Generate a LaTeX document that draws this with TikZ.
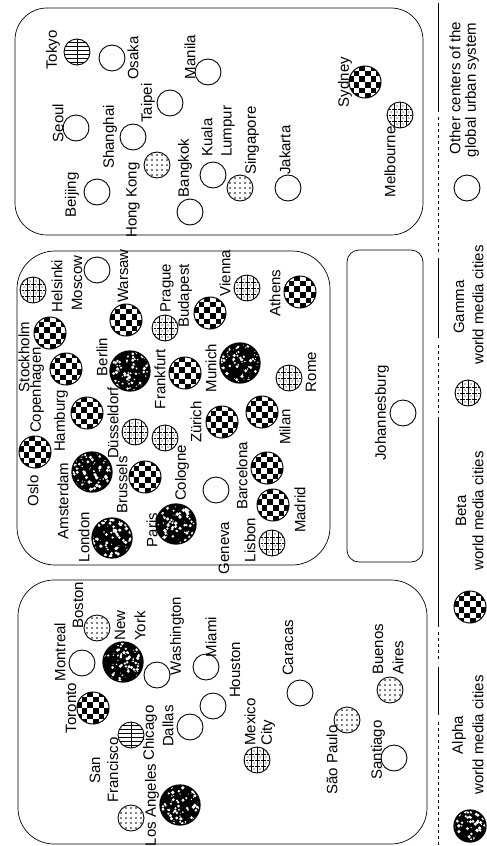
\documentclass[tikz,border=0pt]{standalone}
\usepackage{fontspec}
\setmainfont{Liberation Sans}
\usepackage{tikz}
\usetikzlibrary{positioning}
\newcommand{\labfont}{\fontsize{15}{18}\selectfont}
% Fillings of the city symbols
\newcommand{\checkers}{%
\begin{scope}[shift={(path picture bounding box.center)}]
\foreach \i in {-3,...,2}{
  \foreach \j in {-3,...,2}{
    \pgfmathtruncatemacro{\cpar}{mod(\i+\j+10,2)}
    \ifnum\cpar=0 \fill (\i*5.6,\j*5.6) rectangle ++(5.6,5.6); \fi
  }
}
\end{scope}}
\newcommand{\speckles}{%
\begin{scope}[shift={(path picture bounding box.center)}]
\foreach \k in {1,...,80}{
  \fill[white] (rand*19,rand*19) circle ({0.4+rnd*1.5});
}
\end{scope}}
\newcommand{\gridlines}{%
\begin{scope}[shift={(path picture bounding box.center)}, line width=0.5pt]
\foreach \t in {-6,0,6}{
  \draw (\t,-14) -- (\t,14);
  \draw[dash pattern=on 2pt off 1pt] (-14,\t) -- (14,\t);
}
\foreach \i in {-9,-3,3,9}{\foreach \j in {-9,-3,3,9}{\fill (\i,\j) circle (0.6);}}
\end{scope}}
\newcommand{\dotgrid}{%
\begin{scope}[shift={(path picture bounding box.center)}]
\foreach \i in {-10,-5,...,10}{\foreach \j in {-10,-5,...,10}{\fill (\i,\j) circle (0.8);}}
\end{scope}}
\newcommand{\hatching}{%
\begin{scope}[shift={(path picture bounding box.center)}, line width=0.5pt]
\foreach \t in {-10,-6,...,10}{\draw (-14,\t) -- (14,\t);}
\draw (0,-14) -- (0,14);
\end{scope}}

\tikzset{
  city/.style={circle, draw, line width=0.9pt, inner sep=0pt, minimum size=26pt},
  othercity/.style={city},
  betacity/.style={city, minimum size=32pt, line width=1pt, path picture={\checkers}},
  alphacity/.style={city, minimum size=40pt, line width=1.3pt, fill=black, path picture={\speckles}},
  gammacity/.style={city, path picture={\gridlines}},
  dotcity/.style={city, path picture={\dotgrid}},
  linecity/.style={city, path picture={\hatching}},
  lab/.style={rotate=90, font=\labfont, inner sep=0pt},
  panel/.style={line width=0.7pt, rounded corners=#1},
}

\begin{document}
\begin{tikzpicture}[x=1pt, y=-1pt]
    \pgfmathsetseed{12}
    \useasboundingbox (0,0) rectangle (487,846);

    % panels
    \draw[panel=32pt] (15,8) rectangle (423,235);
    \draw[panel=38pt] (17,251) rectangle (330,565);
    \draw[panel=12pt] (347,250) rectangle (423,562);
    \draw[panel=36pt] (18,580) rectangle (427,844);

    % Asia and Pacific
    \node[linecity] (tokyo) at (77,52) {};
    \node[lab] (tokyo-l) at (53,50) {Tokyo};
    \node[othercity] (osaka) at (112,58) {};
    \node[lab] (osaka-l) at (133,58) {Osaka};
    \node[othercity] (manila) at (208,72) {};
    \node[lab] (manila-l) at (190,57) {Manila};
    \node[othercity] (taipei) at (170,103) {};
    \node[lab] (taipei-l) at (148,103) {Taipei};
    \node[othercity] (seoul) at (76,128) {};
    \node[lab] (seoul-l) at (58,123) {Seoul};
    \node[othercity] (shanghai) at (133,137) {};
    \node[lab] (shanghai-l) at (110,137) {Shanghai};
    \node[dotcity] (hongkong) at (157,165) {};
    \node[lab] (hongkong-l) at (133,200) {Hong Kong};
    \node[othercity] (beijing) at (97,192) {};
    \node[lab] (beijing-l) at (72,195) {Beijing};
    \node[othercity] (bangkok) at (190,212) {};
    \node[lab] (bangkok-l) at (185,168) {Bangkok};
    \node[othercity] (kuala) at (213,175) {};
    \node[lab, anchor=west] (kuala-l) at (207,157) {Kuala};
    \node[lab, anchor=west] (lumpur-l) at (228,157) {Lumpur};
    \node[dotcity] (singapore) at (240,188) {};
    \node[lab, anchor=west] (singapore-l) at (252,175) {Singapore};
    \node[othercity] (jakarta) at (288,188) {};
    \node[lab, anchor=west] (jakarta-l) at (285,175) {Jakarta};
    \node[betacity] (sydney) at (365,82) {};
    \node[lab] (sydney-l) at (345,82) {Sydney};
    \node[gammacity] (melbourne) at (400,115) {};
    \node[lab] (melbourne-l) at (390,162) {Melbourne};

    % Europe
    \node[betacity] (oslo) at (35,452) {};
    \node[lab] (oslo-l) at (33,491) {Oslo};
    \node[betacity] (copenhagen) at (66,369) {};
    \node[lab] (copenhagen-l) at (37,390) {Copenhagen};
    \node[betacity] (stockholm) at (50,333) {};
    \node[lab] (stockholm-l) at (24,357) {Stockholm};
    \node[gammacity] (helsinki) at (33,290) {};
    \node[lab] (helsinki-l) at (57,286) {Helsinki};
    \node[othercity] (moscow) at (97,270) {};
    \node[lab] (moscow-l) at (77,283) {Moscow};
    \node[betacity] (hamburg) at (87,413) {};
    \node[lab] (hamburg-l) at (61,421) {Hamburg};
    \node[alphacity] (amsterdam) at (92,472) {};
    \node[lab] (amsterdam-l) at (63,501) {Amsterdam};
    \node[alphacity] (london) at (112,538) {};
    \node[lab] (london-l) at (84,537) {London};
    \node[betacity] (brussels) at (145,477) {};
    \node[lab] (brussels-l) at (122,485) {Brussels};
    \node[gammacity] (dusseldorf) at (135,432) {};
    \node[lab] (dusseldorf-l) at (113,423) {Düsseldorf};
    \node[alphacity] (berlin) at (130,371) {};
    \node[lab] (berlin-l) at (102,357) {Berlin};
    \node[betacity] (warsaw) at (126,320) {};
    \node[lab] (warsaw-l) at (123,276) {Warsaw};
    \node[gammacity] (prague) at (165,328) {};
    \node[lab] (prague-l) at (167,288) {Prague};
    \node[gammacity] (cologne) at (165,438) {};
    \node[lab] (cologne-l) at (182,473) {Cologne};
    \node[alphacity] (paris) at (176,524) {};
    \node[lab] (paris-l) at (152,530) {Paris};
    \node[betacity] (frankfurt) at (185,373) {};
    \node[lab] (frankfurt-l) at (160,379) {Frankfurt};
    \node[betacity] (budapest) at (210,313) {};
    \node[lab] (budapest-l) at (185,296) {Budapest};
    \node[gammacity] (vienna) at (247,288) {};
    \node[lab] (vienna-l) at (225,273) {Vienna};
    \node[betacity] (zurich) at (222,422) {};
    \node[lab] (zurich-l) at (196,422) {Zürich};
    \node[alphacity] (munich) at (240,363) {};
    \node[lab] (munich-l) at (211,368) {Munich};
    \node[othercity] (geneva) at (216,490) {};
    \node[lab] (geneva-l) at (224,548) {Geneva};
    \node[betacity] (barcelona) at (267,468) {};
    \node[lab] (barcelona-l) at (242,476) {Barcelona};
    \node[betacity] (milan) at (262,412) {};
    \node[lab] (milan-l) at (285,427) {Milan};
    \node[gammacity] (rome) at (289,378) {};
    \node[lab] (rome-l) at (311,372) {Rome};
    \node[betacity] (athens) at (300,292) {};
    \node[lab] (athens-l) at (275,293) {Athens};
    \node[betacity] (madrid) at (273,505) {};
    \node[lab] (madrid-l) at (300,510) {Madrid};
    \node[gammacity] (lisbon) at (272,543) {};
    \node[lab] (lisbon-l) at (250,540) {Lisbon};

    % Africa
    \node[othercity] (johannesburg) at (403,413) {};
    \node[lab] (johannesburg-l) at (382,413) {Johannesburg};

    % Americas
    \node[dotcity] (sanfrancisco) at (131,818) {};
    \node[lab, align=center] (sanfrancisco-l) at (104,770) {San\\Francisco};
    \node[alphacity] (losangeles) at (180,805) {};
    \node[lab] (losangeles-l) at (152,805) {Los Angeles};
    \node[linecity] (chicago) at (131,735) {};
    \node[lab] (chicago-l) at (150,733) {Chicago};
    \node[betacity] (toronto) at (93,708) {};
    \node[lab] (toronto-l) at (71,708) {Toronto};
    \node[othercity] (montreal) at (82,663) {};
    \node[lab] (montreal-l) at (60,652) {Montreal};
    \node[dotcity] (boston) at (97,628) {};
    \node[lab] (boston-l) at (78,605) {Boston};
    \node[alphacity] (newyork) at (123,662) {};
    \node[lab, anchor=west] (new-l) at (120,641) {New};
    \node[lab, anchor=west] (york-l) at (140,641) {York};
    \node[othercity] (washington) at (157,675) {};
    \node[lab] (washington-l) at (177,636) {Washington};
    \node[othercity] (miami) at (206,667) {};
    \node[lab] (miami-l) at (211,637) {Miami};
    \node[othercity] (dallas) at (190,727) {};
    \node[lab] (dallas-l) at (168,726) {Dallas};
    \node[othercity] (houston) at (213,706) {};
    \node[lab] (houston-l) at (235,670) {Houston};
    \node[gammacity] (mexico) at (257,760) {};
    \node[lab, anchor=west] (mexico-l) at (250,746) {Mexico};
    \node[lab, anchor=west] (city-l) at (268,746) {City};
    \node[othercity] (caracas) at (300,693) {};
    \node[lab] (caracas-l) at (288,648) {Caracas};
    \node[dotcity] (saopaulo) at (347,720) {};
    \node[lab] (saopaulo-l) at (332,760) {São Paulo};
    \node[othercity] (santiago) at (394,758) {};
    \node[lab] (santiago-l) at (378,750) {Santiago};
    \node[dotcity] (buenosaires) at (390,690) {};
    \node[lab, anchor=west] (buenos-l) at (378,675) {Buenos};
    \node[lab, anchor=west] (aires-l) at (398,675) {Aires};

    % legend
    \draw[line width=0.7pt] (438,3) -- (438,112);
    \draw[line width=0.7pt, dashed] (438,117) -- (438,252);
    \draw[line width=0.7pt] (438,258) -- (438,338);
    \draw[line width=0.7pt, dashed] (438,345) -- (438,413);
    \draw[line width=0.7pt] (438,417) -- (438,627);
    \draw[line width=0.7pt, dashed] (438,632) -- (438,662);
    \draw[line width=0.7pt] (438,667) -- (438,715);
    \draw[line width=0.7pt, dashed] (438,722) -- (438,846);

    \node[othercity] (key-other) at (467,188) {};
    \node[lab] (key-other-l1) at (455,88) {Other centers of the};
    \node[lab] (key-other-l2) at (472,90) {global urban system};
    \node[gammacity] (key-gamma) at (468,393) {};
    \node[lab] (key-gamma-l1) at (459,307) {Gamma};
    \node[lab] (key-gamma-l2) at (478,305) {world media cities};
    \node[betacity] (key-beta) at (470,607) {};
    \node[lab] (key-beta-l1) at (461,511) {Beta};
    \node[lab] (key-beta-l2) at (478,511) {world media cities};
    \node[alphacity, minimum size=32pt] (key-alpha) at (470,826) {};
    \node[lab] (key-alpha-l1) at (459,735) {Alpha};
    \node[lab] (key-alpha-l2) at (478,735) {world media cities};

\end{tikzpicture}
\end{document}
